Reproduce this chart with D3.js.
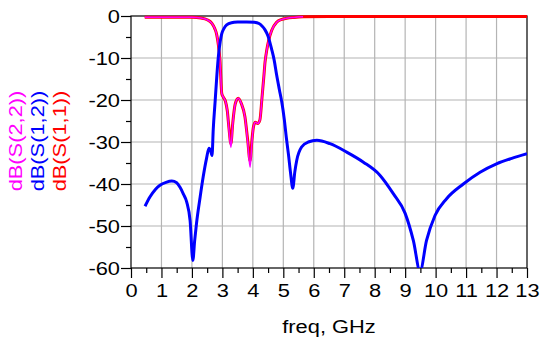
<!DOCTYPE html>
<html>
<head>
<meta charset="utf-8">
<script src="https://cdn.jsdelivr.net/npm/d3@7"></script>
<style>
    body { margin: 0; background: #fff; }
    text { font-family: "Liberation Sans", Arial, sans-serif; }
</style>
</head>
<body>
<div class="chart"></div>
<script>
// data (GHz, dB)
var freqS12 = [0.46, 0.62, 0.8, 0.95, 1.15, 1.34, 1.5, 1.61, 1.72, 1.83, 1.94, 2.03, 2.09, 2.15, 2.27, 2.37, 2.48, 2.56, 2.62, 2.66, 2.7, 2.76, 2.82, 2.87, 2.93, 2.98, 3.05, 3.14, 3.3, 3.5, 3.8, 4.05, 4.2, 4.3, 4.4, 4.5, 4.62, 4.7, 4.78, 4.87, 4.95, 5.03, 5.1, 5.17, 5.24, 5.31, 5.38, 5.44, 5.6, 5.82, 6.1, 6.53, 7.08, 7.63, 8.17, 8.61, 9.0, 9.27, 9.49, 9.7, 9.98, 10.36, 10.91, 11.46, 12.0, 12.5, 13.0];
var s12 = [-45.3, -43.1, -41.3, -40.3, -39.6, -39.3, -39.7, -40.8, -42.4, -44.3, -48.7, -58.2, -53.5, -49.4, -43.1, -38.3, -33.9, -31.5, -32.2, -33.2, -27, -20.5, -14, -9.5, -6, -4.2, -3, -2.1, -1.6, -1.45, -1.4, -1.5, -1.8, -2.4, -3.3, -4.8, -8, -10.5, -14, -17.5, -20.5, -24.5, -29, -33, -37.5, -41, -37, -34.4, -31.2, -30, -29.6, -30.4, -32.4, -34.8, -37.9, -42.3, -47, -53.5, -60.8, -53.5, -47.5, -43.5, -40, -37.2, -35.2, -33.9, -32.8];

var freqS11 = [0.45, 1.5, 2.0, 2.3, 2.5, 2.65, 2.75, 2.81, 2.87, 2.92, 2.98, 3.03, 3.1, 3.16, 3.22, 3.28, 3.34, 3.42, 3.52, 3.62, 3.74, 3.83, 3.91, 3.97, 4.02, 4.08, 4.16, 4.23, 4.3, 4.36, 4.4, 4.46, 4.52, 4.62, 4.78, 4.95, 5.11, 5.35, 5.65, 6.5, 13.0];
var s11 = [-0.3, -0.3, -0.3, -0.5, -0.9, -1.7, -3, -4.3, -7, -10.5, -18.5, -19.3, -20.3, -22.5, -27, -30.4, -25.5, -21, -19.6, -20.8, -24, -29.5, -34.5, -29.5, -26.4, -25.3, -25.6, -24.8, -19.5, -14.5, -11, -8, -5.8, -3.4, -1.5, -0.8, -0.55, -0.35, -0.2, -0.1, -0.1];

var freqS22 = [0.45, 1.5, 2.0, 2.3, 2.5, 2.65, 2.75, 2.81, 2.87, 2.92, 2.98, 3.03, 3.1, 3.16, 3.22, 3.28, 3.34, 3.42, 3.52, 3.62, 3.74, 3.83, 3.91, 3.97, 4.02, 4.08, 4.16, 4.23, 4.3, 4.36, 4.4, 4.46, 4.52, 4.62, 4.78, 4.95, 5.11, 5.35, 5.65];
var s22 = [-0.3, -0.3, -0.3, -0.5, -0.9, -1.7, -3, -4.3, -7, -10.5, -18.5, -19.3, -20.3, -22.5, -27.5, -31.3, -25.8, -21, -19.6, -20.8, -24, -30, -36, -30, -26.4, -25.3, -25.6, -24.8, -19.5, -14.5, -11, -8, -5.8, -3.4, -1.5, -0.8, -0.55, -0.35, -0.2];

var xTicks = [0, 1, 2, 3, 4, 5, 6, 7, 8, 9, 10, 11, 12, 13];
var xMinorTicks = [0.5, 1.5, 2.5, 3.5, 4.5, 5.5, 6.5, 7.5, 8.5, 9.5, 10.5, 11.5, 12.5];
var yTicks = [0, -10, -20, -30, -40, -50, -60];
var yMinorTicks = [-5, -15, -25, -35, -45, -55];
var traceNames = ["dB(S(2,2))", "dB(S(1,2))", "dB(S(1,1))"];
var traceColors = ["#ff00ff", "#0000ff", "#ff0000"];

var svgWidth = 542;
var svgHeight = 341;
var margin = { top: 16, right: 15, bottom: 73, left: 131 };
var width = svgWidth - margin.left - margin.right;
var height = svgHeight - margin.top - margin.bottom;
var stretch = 1.15;   // the original font is a bit wider than Arial

var svg = d3.select('div.chart')
    .append('svg')
    .attr('width', svgWidth)
    .attr('height', svgHeight)
    .style('display', 'block')
    .style('background', '#fff');

var chart = svg.append('g')
    .attr('transform', 'translate(' + margin.left + ',' + margin.top + ')');

var x = d3.scaleLinear().domain([0, 13]).range([0, width]);
var y = d3.scaleLinear().domain([-60, 0]).range([height, 0]);

// plain hyphen for negative labels, like the original
var plainNum = function (d) { return String(d); };

// grid
chart.append('g')
    .selectAll('line')
    .data(xTicks.slice(1, -1))
    .enter()
    .append('line')
    .attr('x1', function (d) { return x(d); })
    .attr('x2', function (d) { return x(d); })
    .attr('y1', 0)
    .attr('y2', height)
    .attr('stroke', '#b4b4b4')
    .attr('stroke-width', 1.2);

chart.append('g')
    .selectAll('line')
    .data(yTicks.slice(1, -1))
    .enter()
    .append('line')
    .attr('y1', function (d) { return y(d); })
    .attr('y2', function (d) { return y(d); })
    .attr('x1', 0)
    .attr('x2', width)
    .attr('stroke', '#b4b4b4')
    .attr('stroke-width', 1.2);

// axes
var xAxis = chart.append('g')
    .attr('transform', 'translate(0,' + height + ')')
    .call(d3.axisBottom(x).tickValues(xTicks).tickSize(10).tickPadding(6).tickFormat(plainNum));
chart.append('g')
    .attr('transform', 'translate(0,' + height + ')')
    .call(d3.axisBottom(x).tickValues(xMinorTicks).tickSize(5).tickFormat(''));

var yAxis = chart.append('g')
    .call(d3.axisLeft(y).tickValues(yTicks).tickSize(10).tickPadding(1).tickFormat(plainNum));
chart.append('g')
    .call(d3.axisLeft(y).tickValues(yMinorTicks).tickSize(5).tickFormat(''));

chart.selectAll('.domain').remove();
chart.selectAll('.tick line').attr('stroke', '#000').attr('stroke-width', 1.2);

xAxis.selectAll('text')
    .attr('font-size', 19)
    .attr('fill', '#000')
    .attr('font-family', '"Liberation Sans", Arial, sans-serif')
    .attr('transform', 'scale(' + stretch + ',1)');

yAxis.selectAll('text')
    .attr('font-size', 19)
    .attr('fill', '#000')
    .attr('font-family', '"Liberation Sans", Arial, sans-serif')
    .attr('x', -11 / stretch)
    .attr('transform', 'scale(' + stretch + ',1)');

// frame
chart.append('rect')
    .attr('x', 0)
    .attr('y', 0)
    .attr('width', width)
    .attr('height', height)
    .attr('fill', 'none')
    .attr('stroke', '#000')
    .attr('stroke-width', 1.2);

// traces
chart.append('clipPath')
    .attr('id', 'plotclip')
    .append('rect')
    .attr('x', 0)
    .attr('y', -3)
    .attr('width', width)
    .attr('height', height + 3);

function traceData(f, v) {
    return f.map(function (d, i) { return [d, v[i]]; });
}

var line = d3.line()
    .x(function (d) { return x(d[0]); })
    .y(function (d) { return y(d[1]); })
    .curve(d3.curveMonotoneX);

var traces = chart.append('g').attr('clip-path', 'url(#plotclip)');

traces.append('path')
    .datum(traceData(freqS11, s11))
    .attr('d', line)
    .attr('fill', 'none')
    .attr('stroke', traceColors[2])
    .attr('stroke-width', 3);

traces.append('path')
    .datum(traceData(freqS22, s22))
    .attr('d', line)
    .attr('fill', 'none')
    .attr('stroke', traceColors[0])
    .attr('stroke-width', 1.5);

traces.append('path')
    .datum(traceData(freqS12, s12))
    .attr('d', line)
    .attr('fill', 'none')
    .attr('stroke', traceColors[1])
    .attr('stroke-width', 3);

// axis titles
svg.append('text')
    .attr('transform', 'translate(' + (margin.left + width / 2) + ',333) scale(' + stretch + ',1)')
    .attr('text-anchor', 'middle')
    .attr('font-size', 19)
    .attr('fill', '#000')
    .text('freq, GHz');

svg.selectAll('text.ylab')
    .data(traceNames)
    .enter()
    .append('text')
    .attr('class', 'ylab')
    .attr('transform', function (d, i) {
        return 'translate(' + (22 + i * 22) + ',141) rotate(-90) scale(' + stretch + ',1)';
    })
    .attr('text-anchor', 'middle')
    .attr('font-size', 19)
    .attr('fill', function (d, i) { return traceColors[i]; })
    .text(function (d) { return d; });
</script>
</body>
</html>
